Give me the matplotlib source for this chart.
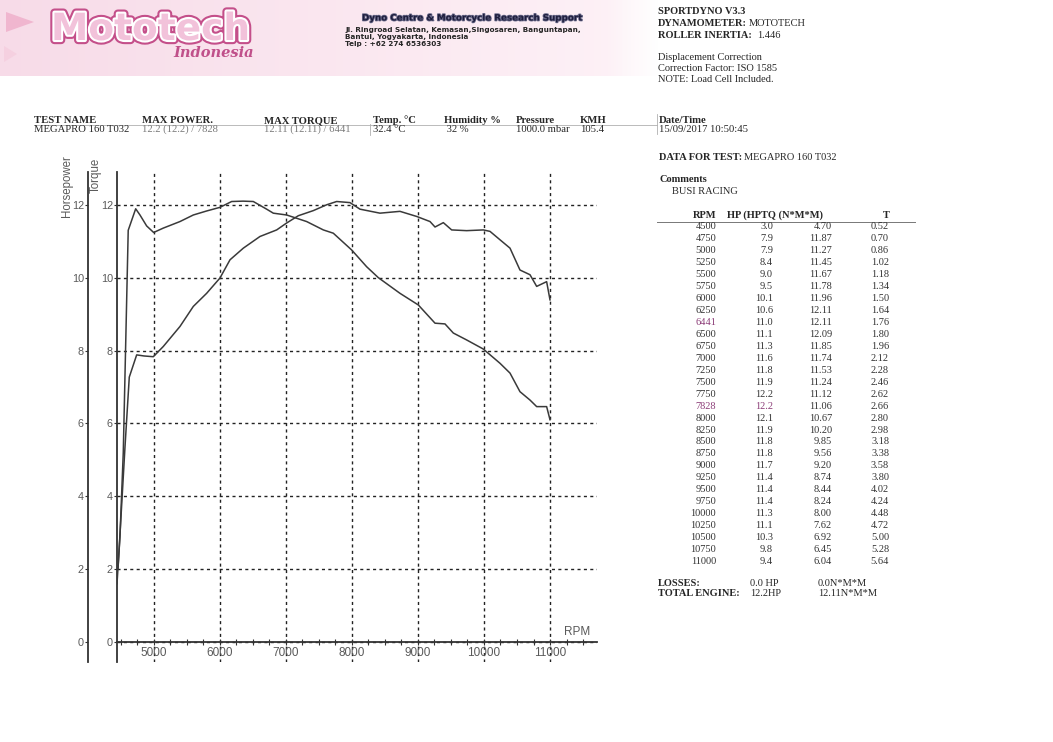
import numpy as np
import matplotlib
matplotlib.use("Agg")
import matplotlib.pyplot as plt
import matplotlib.patheffects as pe
from matplotlib.patches import Polygon
from matplotlib.ticker import MultipleLocator

plt.rcParams['font.family'] = ['Liberation Sans', 'DejaVu Sans']

W, H = 1053, 742

# curves
tq_rpm = [4440, 4485, 4535, 4610, 4723, 4788, 4889, 4995, 5141, 5394, 5596, 5798,
          6000, 6177, 6350, 6505, 6707, 6808, 7010, 7162, 7313, 7566, 7717, 7995,
          8222, 8399, 8727, 9005, 9258, 9409, 9535, 9737, 9990, 10242, 10394,
          10545, 10697, 10798, 10949, 11000]
tq_val = [1.6, 2.9, 5.2, 11.3, 11.89, 11.72, 11.42, 11.24, 11.36, 11.54, 11.72, 11.83,
          11.93, 12.09, 12.1, 12.09, 11.88, 11.77, 11.72, 11.63, 11.54, 11.31, 11.22, 10.76,
          10.30, 10.0, 9.57, 9.25, 8.75, 8.73, 8.48, 8.29, 8.04, 7.65, 7.38,
          6.87, 6.64, 6.46, 6.46, 6.10]

hp_rpm = [4455, 4561, 4626, 4738, 4850, 4990, 5141, 5394, 5596, 5798, 6000, 6152,
          6354, 6606, 6859, 7010, 7187, 7414, 7616, 7768, 7970, 8121, 8424, 8727,
          8980, 9182, 9258, 9384, 9510, 9737, 9990, 10091, 10242, 10394, 10545,
          10697, 10798, 10949, 11000]
hp_val = [2.0, 5.35, 7.27, 7.88, 7.85, 7.83, 8.11, 8.66, 9.21, 9.57, 9.99, 10.49,
          10.81, 11.13, 11.31, 11.50, 11.70, 11.84, 12.0, 12.09, 12.06, 11.88, 11.77, 11.82,
          11.68, 11.54, 11.39, 11.51, 11.31, 11.29, 11.31, 11.27, 11.04, 10.81, 10.21,
          10.08, 9.76, 9.89, 9.39]

# printed table
tbl_rpm = [4500, 4750, 5000, 5250, 5500, 5750, 6000, 6250, 6441, 6500, 6750, 7000,
           7250, 7500, 7750, 7828, 8000, 8250, 8500, 8750, 9000, 9250, 9500, 9750,
           10000, 10250, 10500, 10750, 11000]
tbl_hp = [3.0, 7.9, 7.9, 8.4, 9.0, 9.5, 10.1, 10.6, 11.0, 11.1, 11.3, 11.6,
          11.8, 11.9, 12.2, 12.2, 12.1, 11.9, 11.8, 11.8, 11.7, 11.4, 11.4, 11.4,
          11.3, 11.1, 10.3, 9.8, 9.4]
tbl_tq = [4.70, 11.87, 11.27, 11.45, 11.67, 11.78, 11.96, 12.11, 12.11, 12.09, 11.85, 11.74,
          11.53, 11.24, 11.12, 11.06, 10.67, 10.20, 9.85, 9.56, 9.20, 8.74, 8.44, 8.24,
          8.00, 7.62, 6.92, 6.45, 6.04]
tbl_t = [0.52, 0.70, 0.86, 1.02, 1.18, 1.34, 1.50, 1.64, 1.76, 1.80, 1.96, 2.12,
         2.28, 2.46, 2.62, 2.66, 2.80, 2.98, 3.18, 3.38, 3.58, 3.80, 4.02, 4.24,
         4.48, 4.72, 5.00, 5.28, 5.64]

head_labels = ['TEST NAME', 'MAX POWER.', 'MAX TORQUE', 'Temp. \u00b0C', 'Humidity %',
               'Pressure', 'KMH', 'Date/Time']
head_values = ['MEGAPRO 160 T032', '12.2 (12.2) / 7828', '12.11 (12.11) / 6441',
               '32.4 \u00b0C', ' 32 %', '1000.0 mbar', '105.4', '15/09/2017 10:50:45']
head_x = [34, 142, 264, 373, 444, 516, 580, 659]

INK = '#262626'
GREY = '#5a5a5a'
SERIF = 'Liberation Serif'

fig = plt.figure(figsize=(W / 100, H / 100), dpi=100)
fig.patch.set_facecolor('white')
rend = fig.canvas.get_renderer()

# page layer in pixel coordinates
bg = fig.add_axes([0, 0, 1, 1])
bg.set_xlim(0, W)
bg.set_ylim(H, 0)
bg.axis('off')

# pink letterhead band
grad = np.zeros((1, 256, 4))
grad[0, :, 0] = np.linspace(0.97, 0.995, 256)
grad[0, :, 1] = np.linspace(0.86, 0.95, 256)
grad[0, :, 2] = np.linspace(0.91, 0.97, 256)
grad[0, :, 3] = np.clip(np.linspace(12, 0, 256), 0, 1)
bg.imshow(grad, extent=[0, 660, 76, 0], aspect='auto', zorder=0)
bg.add_patch(Polygon([(6, 12), (6, 32), (34, 22)], closed=True, color='#f0b6cf', lw=0))
bg.add_patch(Polygon([(4, 46), (4, 62), (17, 54)], closed=True, color='#f5d0e0', lw=0))

bg.text(51, 30, 'Mototech', fontsize=27, fontweight='bold', family='DejaVu Sans',
        color='#f2c2da', va='center', ha='left',
        path_effects=[pe.Stroke(linewidth=6, foreground='#c44f8a'),
                      pe.Stroke(linewidth=3, foreground='white'), pe.Normal()])
bg.text(254, 53, 'Indonesia', fontsize=10.5, fontweight='bold', style='italic',
        family='DejaVu Serif', color='#c0508a', va='center', ha='right')

bg.text(362, 18, 'Dyno Centre & Motorcycle Research Support', fontsize=6.3,
        fontweight='bold', family='DejaVu Sans', color='#1d1d3c', va='center',
        path_effects=[pe.Stroke(linewidth=1.2, foreground='#6a6a8a'), pe.Normal()])
addr = ['Jl. Ringroad Selatan, Kemasan,Singosaren, Banguntapan,',
        'Bantul, Yogyakarta, Indonesia', 'Telp : +62 274 6536303']
bg.text(345, 37, '\n'.join(addr), fontsize=5.2, fontweight='bold', family='DejaVu Sans',
        color=INK, va='center', linespacing=1.25)


def mixed(x, y, bold, regular='', size=7.5, gap=3):
    t = bg.text(x, y, bold, fontsize=size, fontweight='bold', family=SERIF, color=INK,
                va='center')
    if regular:
        w = t.get_window_extent(renderer=rend).width
        bg.text(x + w + gap, y, regular, fontsize=size, family=SERIF, color=INK, va='center')


# right info block
mixed(658, 12, 'SPORTDYNO V3.3')
mixed(658, 23.5, 'DYNAMOMETER:', 'MOTOTECH', gap=2)
mixed(658, 35, 'ROLLER INERTIA:', '1.446', gap=5)
for i, s in enumerate(['Displacement Correction', 'Correction Factor: ISO 1585',
                       'NOTE: Load Cell Included.']):
    bg.text(658, 57 + 11.5 * i, s, fontsize=7.5, family=SERIF, color=INK, va='center')

# test header row
for lab, val, x in zip(head_labels, head_values, head_x):
    bg.text(x, 123, lab, fontsize=7.7, fontweight='bold', family=SERIF, color=INK,
            va='baseline')
    c = '#7a7a7a' if 'MAX' in lab else INK
    bg.text(x, 132, val, fontsize=7.7, family=SERIF, color=c, va='baseline')
bg.plot([34, 657], [124.5, 124.5], color='#b0b0b0', lw=0.6)
bg.plot([370, 370], [124, 135], color='#b0b0b0', lw=0.6)
bg.plot([657, 657], [114, 134], color='#b0b0b0', lw=0.6)

mixed(659, 157, 'DATA FOR TEST:', 'MEGAPRO 160 T032', gap=2)
mixed(659, 180, 'Comments')
bg.text(672, 191, 'BUSI RACING', fontsize=7.5, family=SERIF, color=INK, va='center')

# data table
bg.text(705, 215, 'RPM', fontsize=7.5, fontweight='bold', family=SERIF, color=INK,
        va='center', ha='center')
hp_head = bg.text(727, 215, 'HP (HP', fontsize=7.5, fontweight='bold', family=SERIF,
                  color=INK, va='center')
hw = hp_head.get_window_extent(renderer=rend).width
bg.text(727 + hw, 215, 'TQ (N*M*M)', fontsize=7.5, fontweight='bold', family=SERIF,
        color=INK, va='center')
bg.text(886, 215, 'T', fontsize=7.5, fontweight='bold', family=SERIF, color=INK,
        va='center', ha='center')
bg.plot([657, 915], [221.5, 221.5], color='#777777', lw=0.7)

PURPLE = '#8c3d78'
for i, (r, hp, tq, t) in enumerate(zip(tbl_rpm, tbl_hp, tbl_tq, tbl_t)):
    y = 226.7 + i * 11.96
    peak = r in (6441, 7828)
    bg.text(716, y, f'{r}', fontsize=7.5, family=SERIF, ha='right', va='center',
            color=PURPLE if peak else '#333333')
    bg.text(773, y, f'{hp:.1f}', fontsize=7.5, family=SERIF, ha='right', va='center',
            color=PURPLE if r == 7828 else '#333333')
    bg.text(832, y, f'{tq:.2f}', fontsize=7.5, family=SERIF, ha='right', va='center',
            color='#333333')
    bg.text(889, y, f'{t:.2f}', fontsize=7.5, family=SERIF, ha='right', va='center',
            color='#333333')

bg.text(658, 584, 'LOSSES:', fontsize=7.5, fontweight='bold', family=SERIF, color=INK, va='center')
bg.text(658, 594, 'TOTAL ENGINE:', fontsize=7.5, fontweight='bold', family=SERIF, color=INK,
        va='center')
bg.text(750, 584, '0.0 HP', fontsize=7.5, family=SERIF, color=INK, va='center')
bg.text(818, 584, '0.0N*M*M', fontsize=7.5, family=SERIF, color=INK, va='center')
bg.text(750, 594, '12.2HP', fontsize=7.5, family=SERIF, color=INK, va='center')
bg.text(818, 594, '12.11N*M*M', fontsize=7.5, family=SERIF, color=INK, va='center')

# axis titles
bg.text(67, 186, 'Horsepower', rotation=90, fontsize=8.3, color=GREY, ha='center', va='center')
bg.text(96, 175, 'Torque', rotation=90, fontsize=8.3, color=GREY, ha='center', va='center')

# dyno graph
L, R, T, B = 117, 597, 172, 662
ax = fig.add_axes([L / W, 1 - B / H, (R - L) / W, (B - T) / H])
ax.patch.set_alpha(0)
ax.set_xlim(4440, 11712)
ax.set_ylim(-0.55, 12.9)

for s in ['top', 'right']:
    ax.spines[s].set_visible(False)
ax.spines['left'].set_color('#333333')
ax.spines['left'].set_linewidth(1.3)
ax.spines['bottom'].set_position(('data', 0))
ax.spines['bottom'].set_color('#333333')
ax.spines['bottom'].set_linewidth(1.3)

ax.set_xticks(range(5000, 11001, 1000))
ax.xaxis.set_minor_locator(MultipleLocator(250))
ax.set_yticks(range(0, 13, 2))
ax.tick_params(axis='x', which='both', direction='inout', length=5, width=0.8,
               colors='#333333', labelcolor=GREY, labelsize=8.5, pad=1)
ax.tick_params(axis='y', length=2, width=0.8, colors='#333333', labelcolor=GREY,
               labelsize=7.8, pad=1)
ax.grid(True, which='major', color='#222222', lw=1.0, ls=(0, (2.2, 2.4)))

ax.plot(tq_rpm, tq_val, color='#3a3a3a', lw=1.1, zorder=3)
ax.plot(hp_rpm, hp_val, color='#3a3a3a', lw=1.1, zorder=3)

ax.text(11410, 0.1, 'RPM', fontsize=8.5, color=GREY, ha='center', va='bottom')

hp_ax = ax.secondary_yaxis(-29 / (R - L))
hp_ax.set_yticks(range(0, 13, 2))
hp_ax.spines['left'].set_color('#333333')
hp_ax.spines['left'].set_linewidth(1.3)
hp_ax.tick_params(length=2, width=0.8, colors='#333333', labelcolor=GREY,
                  labelsize=7.8, pad=1)

fig.savefig('out.png', dpi=100, facecolor='white')
